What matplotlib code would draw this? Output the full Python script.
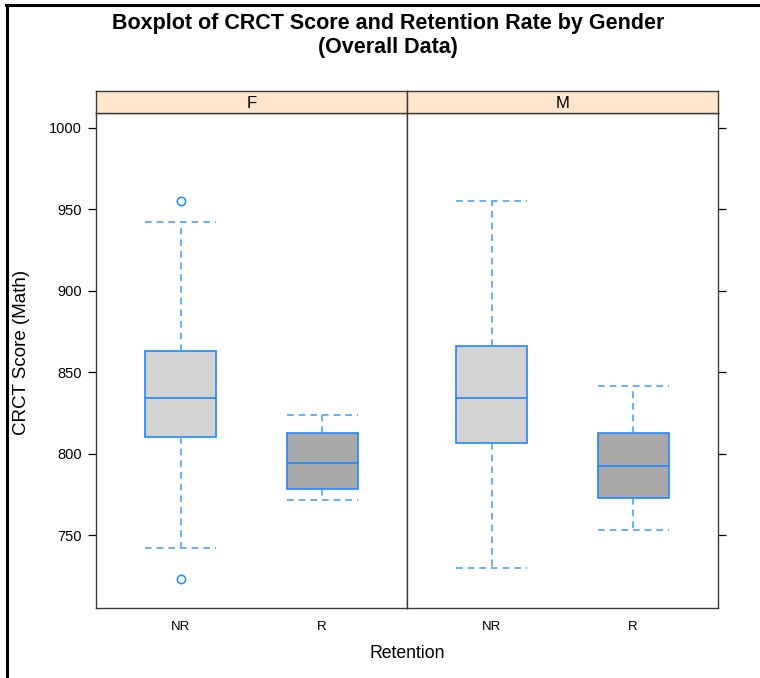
import matplotlib
matplotlib.use("Agg")
import matplotlib.pyplot as plt
from matplotlib.lines import Line2D

plt.rcParams['font.family'] = ['Liberation Sans', 'DejaVu Sans']

panels = ["F", "M"]
categories = ["NR", "R"]
# five-number summaries per panel: [NR, R]
whislo = {"F": [742, 771.5], "M": [729.7, 753]}
q1 = {"F": [810.2, 778.3], "M": [806.5, 772.7]}
med = {"F": [834.2, 794.2], "M": [834.0, 792.4]}
q3 = {"F": [863, 812.7], "M": [866, 812.7]}
whishi = {"F": [942.3, 823.7], "M": [955.2, 841.5]}
fliers = {"F": [[955.2, 723], []], "M": [[], []]}

yticks = [750, 800, 850, 900, 950, 1000]
fills = ["#d3d3d3", "#a9a9a9"]
edge = "#1e88ff"
whisk = "#4aa3ff"
strip_col = "#ffe5cc"
spine_col = "#3a3a3a"

W, H = 760, 678
fig = plt.figure(figsize=(W / 100, H / 100), dpi=100)

def fr(x0, y0, x1, y1):
    return [x0 / W, 1 - y1 / H, (x1 - x0) / W, (y1 - y0) / H]

px = [(96, 407), (407, 718)]
ylim = (705.2, 1009.2)
for i, p in enumerate(panels):
    ax = fig.add_axes(fr(px[i][0], 113, px[i][1], 608))
    stats = []
    for j, c in enumerate(categories):
        stats.append(dict(whislo=whislo[p][j], q1=q1[p][j], med=med[p][j],
                          q3=q3[p][j], whishi=whishi[p][j], fliers=fliers[p][j]))
    bp = ax.bxp(stats, positions=[1, 2], widths=0.5, patch_artist=True,
                showfliers=True,
                boxprops=dict(edgecolor=edge, linewidth=1.2),
                medianprops=dict(color=edge, linewidth=1.2),
                whiskerprops=dict(color=whisk, linewidth=1.2, linestyle=(0, (4, 3))),
                capprops=dict(color=whisk, linewidth=1.2, linestyle=(0, (4, 3))),
                flierprops=dict(marker='o', markerfacecolor='none', markeredgecolor=edge,
                                markersize=6, markeredgewidth=1.1))
    for b, f in zip(bp['boxes'], fills):
        b.set_facecolor(f)
    for cap in bp['caps']:
        xs = cap.get_xdata()
        mid = (xs[0] + xs[1]) / 2
        cap.set_xdata([mid - 0.25, mid + 0.25])
    ax.set_xlim(0.4, 2.6)
    ax.set_ylim(*ylim)
    ax.set_xticks([1, 2])
    ax.set_xticklabels(categories, fontsize=9.5)
    ax.tick_params(axis='x', length=0, pad=9)
    ax.set_yticks(yticks)
    for s in ax.spines.values():
        s.set_color(spine_col)
        s.set_linewidth(1.0)
    if i == 0:
        ax.tick_params(axis='y', direction='out', length=6, width=0.9, labelsize=10.5,
                       left=True, right=False, labelleft=True, pad=4)
    else:
        ax.tick_params(axis='y', direction='out', length=6, width=0.9,
                       left=False, right=True, labelleft=False, labelright=False)

    sax = fig.add_axes(fr(px[i][0], 91, px[i][1], 113))
    sax.set_facecolor(strip_col)
    sax.set_xticks([])
    sax.set_yticks([])
    for s in sax.spines.values():
        s.set_color(spine_col)
        s.set_linewidth(1.0)
    sax.text(0.5, 0.45, p, ha='center', va='center', fontsize=12, transform=sax.transAxes)

fig.text(22 / W, 1 - 352 / H, "CRCT Score (Math)", ha='center', va='center',
         rotation=90, fontsize=13.5)
fig.text(407 / W, 1 - 654 / H, "Retention", ha='center', va='center', fontsize=12.7)
fig.text(388 / W, 1 - 23 / H, "Boxplot of CRCT Score and Retention Rate by Gender",
         ha='center', va='center', fontsize=15.5, fontweight='bold')
fig.text(388 / W, 1 - 48 / H, "(Overall Data)",
         ha='center', va='center', fontsize=15.5, fontweight='bold')

# outer frame lines (left and top)
fig.add_artist(Line2D([6.5 / W, 6.5 / W], [0, 1 - 5 / H], transform=fig.transFigure,
                      color='black', linewidth=2.2))
fig.add_artist(Line2D([5.5 / W, 1], [1 - 5 / H, 1 - 5 / H], transform=fig.transFigure,
                      color='black', linewidth=2.2))

fig.savefig("out.png", dpi=100)
